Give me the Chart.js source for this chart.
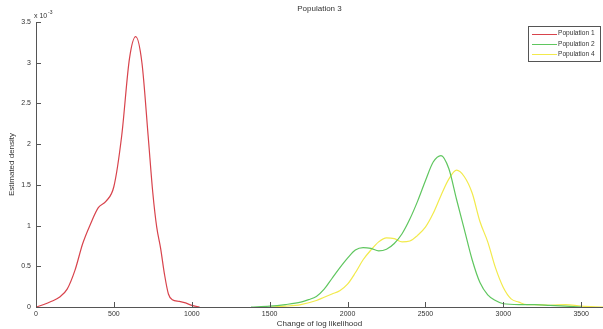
<!DOCTYPE html>
<html lang="en">
<head>
  <meta charset="UTF-8">
  <title>Population 3</title>
  <script src="https://cdn.jsdelivr.net/npm/chart.js"></script>
  <style>
    html, body { margin: 0; padding: 0; background: #fff; }
    #wrap { width: 603px; height: 329px; }
  </style>
</head>
<body>
  <div id="wrap"><canvas id="densityChart"></canvas></div>

  <script>
    // values (density in units of 1e-3)
    const pop1X = [0, 50, 100, 150, 200, 250, 300, 350, 400, 450, 500, 550, 600, 640, 680, 720, 750, 775, 800, 825, 850, 875, 920, 960, 1000, 1050];
    const pop1Y = [0, 0.03, 0.07, 0.12, 0.22, 0.45, 0.78, 1.02, 1.22, 1.30, 1.48, 2.10, 3.05, 3.32, 3.0, 2.10, 1.40, 0.98, 0.72, 0.40, 0.16, 0.09, 0.07, 0.05, 0.02, 0];

    const pop2X = [1380, 1500, 1600, 1700, 1750, 1800, 1850, 1900, 1950, 2000, 2050, 2100, 2150, 2200, 2250, 2300, 2350, 2400, 2450, 2500, 2550, 2600, 2650, 2700, 2750, 2800, 2850, 2900, 2950, 3000, 3100, 3200, 3300, 3400, 3500];
    const pop2Y = [0, 0.01, 0.03, 0.06, 0.09, 0.13, 0.22, 0.35, 0.48, 0.60, 0.70, 0.73, 0.72, 0.69, 0.71, 0.78, 0.90, 1.08, 1.30, 1.55, 1.78, 1.86, 1.70, 1.32, 0.95, 0.58, 0.30, 0.15, 0.08, 0.04, 0.03, 0.03, 0.02, 0.01, 0];

    const pop4X = [1500, 1600, 1700, 1800, 1850, 1900, 1950, 2000, 2050, 2100, 2150, 2200, 2250, 2300, 2350, 2400, 2450, 2500, 2550, 2600, 2650, 2700, 2750, 2800, 2850, 2900, 2950, 3000, 3050, 3100, 3150, 3200, 3300, 3400, 3500, 3640];
    const pop4Y = [0, 0.01, 0.03, 0.08, 0.12, 0.16, 0.20, 0.28, 0.42, 0.58, 0.70, 0.80, 0.85, 0.84, 0.80, 0.81, 0.88, 0.98, 1.15, 1.37, 1.57, 1.68, 1.60, 1.40, 1.05, 0.80, 0.48, 0.24, 0.10, 0.06, 0.03, 0.03, 0.02, 0.03, 0.01, 0];

    const seriesNames = ['Population 1', 'Population 2', 'Population 4'];
    const xTicks = [0, 500, 1000, 1500, 2000, 2500, 3000, 3500];
    const yTicks = [0, 0.5, 1, 1.5, 2, 2.5, 3, 3.5];

    const toPoints = (xs, ys) => xs.map((x, i) => ({ x: x, y: ys[i] }));
    const fam = '"Liberation Sans", Arial, sans-serif';
    const font = { family: fam, size: 8 };
    const tickFont = { family: fam, size: 7 };
    const textColor = '#333';

    // MATLAB style extras: inward ticks, title, exponent, boxed legend
    const matlabBits = {
      id: 'matlabBits',
      afterDraw(chart) {
        const ctx = chart.ctx;
        const area = chart.chartArea;
        const xs = chart.scales.x, ys = chart.scales.y;
        ctx.save();
        ctx.strokeStyle = '#555';
        ctx.lineWidth = 1;
        ctx.beginPath();
        xs.ticks.forEach(t => {
          const px = Math.round(xs.getPixelForValue(t.value)) + 0.5;
          ctx.moveTo(px, area.bottom);
          ctx.lineTo(px, area.bottom - 5);
        });
        ys.ticks.forEach(t => {
          const py = Math.round(ys.getPixelForValue(t.value)) + 0.5;
          ctx.moveTo(area.left, py);
          ctx.lineTo(area.left + 5, py);
        });
        ctx.stroke();

        ctx.fillStyle = textColor;
        ctx.font = '8px ' + fam;
        ctx.textAlign = 'center';
        ctx.textBaseline = 'middle';
        ctx.fillText('Population 3', (area.left + area.right) / 2, 9);

        ctx.textAlign = 'left';
        ctx.font = '7px ' + fam;
        ctx.fillText('x 10', area.left - 2, 16);
        ctx.font = '5px ' + fam;
        ctx.fillText('-3', area.left + 12, 13);

        // legend
        const lx = 528, ly = 26, lw = 72, lh = 35;
        ctx.fillStyle = '#fff';
        ctx.fillRect(lx, ly, lw, lh);
        ctx.strokeStyle = '#555';
        ctx.strokeRect(lx + 0.5, ly + 0.5, lw, lh);
        ctx.font = '6.6px ' + fam;
        chart.data.datasets.forEach((ds, i) => {
          const yy = ly + 7.5 + i * 10.3;
          ctx.strokeStyle = ds.borderColor;
          ctx.beginPath();
          ctx.moveTo(lx + 4, Math.round(yy) + 0.5);
          ctx.lineTo(lx + 29, Math.round(yy) + 0.5);
          ctx.stroke();
          ctx.fillStyle = textColor;
          ctx.fillText(ds.label, lx + 30, yy);
        });
        ctx.restore();
      }
    };

    new Chart(document.getElementById('densityChart'), {
      type: 'line',
      data: {
        datasets: [
          { label: seriesNames[0], data: toPoints(pop1X, pop1Y), borderColor: '#d8434c' },
          { label: seriesNames[1], data: toPoints(pop2X, pop2Y), borderColor: '#5fc65f' },
          { label: seriesNames[2], data: toPoints(pop4X, pop4Y), borderColor: '#f2ea4c' }
        ].map(d => Object.assign(d, {
          borderWidth: 1.2, pointRadius: 0, fill: false, cubicInterpolationMode: 'monotone'
        }))
      },
      options: {
        responsive: true,
        maintainAspectRatio: false,
        animation: false,
        layout: { padding: { top: 22, right: 0, left: 0, bottom: 0 } },
        plugins: {
          legend: { display: false },
          tooltip: { enabled: false }
        },
        scales: {
          x: {
            type: 'linear',
            min: 0,
            max: 3640,
            afterBuildTicks: s => { s.ticks = xTicks.map(v => ({ value: v })); },
            afterFit: s => { s.height = 22; },
            grid: { display: false, drawTicks: false },
            border: { color: '#555', width: 1 },
            ticks: { font: tickFont, color: textColor, padding: 3, maxRotation: 0, callback: v => String(v) },
            title: { display: true, text: 'Change of log likelihood', font: font, color: textColor, padding: { top: 0, bottom: 0 } }
          },
          y: {
            type: 'linear',
            min: 0,
            max: 3.5,
            afterBuildTicks: s => { s.ticks = yTicks.map(v => ({ value: v })); },
            afterFit: s => { s.width = 36; },
            grid: { display: false, drawTicks: false },
            border: { color: '#555', width: 1 },
            ticks: { font: tickFont, color: textColor, padding: 5, callback: v => String(v) },
            title: { display: true, text: 'Estimated density', font: font, color: textColor, padding: { top: 7, bottom: 0 } }
          }
        }
      },
      plugins: [matlabBits]
    });
  </script>
</body>
</html>
